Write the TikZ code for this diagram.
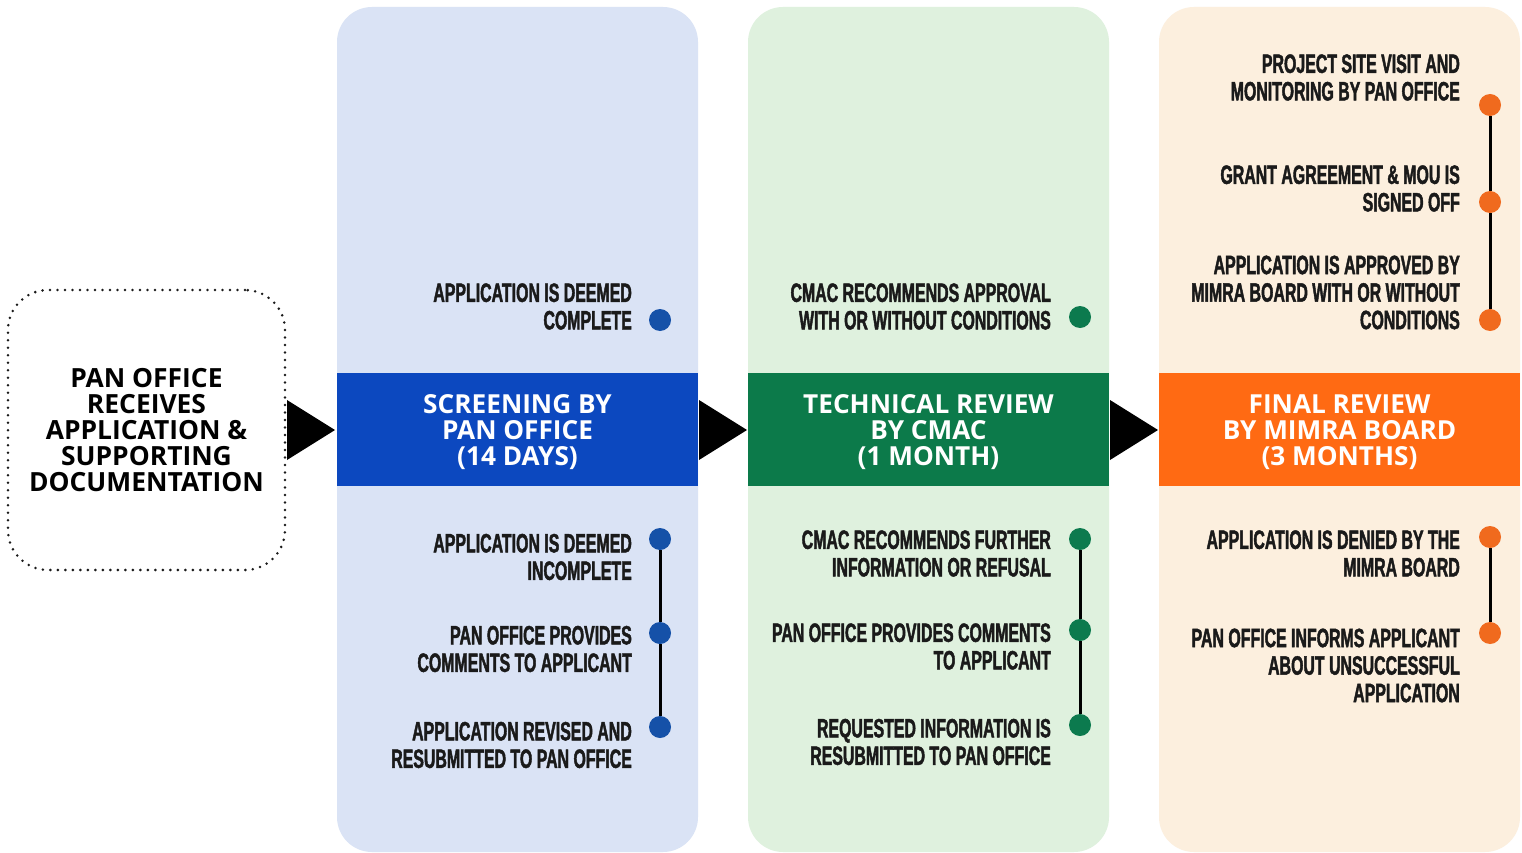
\documentclass[tikz,border=0pt]{standalone}
\usepackage{fontspec}
\newfontfamily\headfont{Open Sans}
\newfontfamily\condfont[FakeStretch=0.6,FakeBold=1.6]{Liberation Sans}
\definecolor{bgA}{HTML}{DAE3F5}
\definecolor{bgB}{HTML}{DFF1DE}
\definecolor{bgC}{HTML}{FCEFDE}
\definecolor{bandA}{HTML}{0C48BF}
\definecolor{bandB}{HTML}{0C7A4A}
\definecolor{bandC}{HTML}{FF6A13}
\definecolor{dotA}{HTML}{1551A8}
\definecolor{dotB}{HTML}{0C7A4E}
\definecolor{dotC}{HTML}{F06A1E}
\definecolor{ink}{HTML}{1A1A1A}
\begin{document}
\begin{tikzpicture}[x=1pt,y=-1pt,
  item/.style={font=\condfont\bfseries\fontsize{26.5}{27.5}\selectfont, align=right, anchor=east, inner sep=0pt, text=ink},
  band/.style={minimum width=361pt, minimum height=113pt, inner sep=0pt},
  bandtext/.style={font=\headfont\bfseries\fontsize{26.2}{26}\selectfont, text=white, align=center, inner sep=0pt},
  dot/.style={circle, inner sep=0pt, minimum size=22pt},
  link/.style={line width=3pt, black},
  colbg/.style={rounded corners=35pt},
  tri/.style={fill=black}]
\useasboundingbox (0,0) rectangle (1522,853);
\fill[white] (0,0) rectangle (1522,853);
% column backgrounds
\fill[bgA, colbg] (337,7) rectangle (698,852);
\fill[bgB, colbg] (748,7) rectangle (1109,852);
\fill[bgC, colbg] (1159,7) rectangle (1520,852);
% start node
\node[draw=ink, line width=2.8pt, dash pattern=on 0pt off 7.5pt, line cap=round, rounded corners=40pt,
  minimum width=277pt, minimum height=280pt, inner sep=0pt, align=center,
  font=\headfont\bfseries\fontsize{26.4}{26}\selectfont, text=black] (start) at (146.5,430)
  {PAN OFFICE\\RECEIVES\\APPLICATION \&\\SUPPORTING\\DOCUMENTATION};
% bands
\node[band, fill=bandA] (s1) at (517.5,429.5) {};
\node[band, fill=bandB] (s2) at (928.5,429.5) {};
\node[band, fill=bandC] (s3) at (1339.5,429.5) {};
\node[bandtext] (s1t) at ([yshift=-3pt]s1.center) {SCREENING BY\\PAN OFFICE\\(14 DAYS)};
\node[bandtext] (s2t) at ([yshift=-3pt]s2.center) {TECHNICAL REVIEW\\BY CMAC\\(1 MONTH)};
\node[bandtext] (s3t) at ([yshift=-3pt]s3.center) {FINAL REVIEW\\BY MIMRA BOARD\\(3 MONTHS)};
% arrows
\fill[tri] (287,400) -- (335,430) -- (287,460) -- cycle;
\fill[tri] (699,400) -- (747,430) -- (699,460) -- cycle;
\fill[tri] (1110,400) -- (1158,430) -- (1110,460) -- cycle;
% column 1 items
\node[item] (ta1) at (632,306.5) {APPLICATION IS DEEMED\\COMPLETE};
\node[item] (ta2) at (632,557) {APPLICATION IS DEEMED\\INCOMPLETE};
\node[item] (ta3) at (632,649) {PAN OFFICE PROVIDES\\COMMENTS TO APPLICANT};
\node[item] (ta4) at (632,745) {APPLICATION REVISED AND\\RESUBMITTED TO PAN OFFICE};
\node[dot, fill=dotA] (a1) at (660,320) {};
\node[dot, fill=dotA] (a2) at (660,539) {};
\node[dot, fill=dotA] (a3) at (660,633) {};
\node[dot, fill=dotA] (a4) at (660,727) {};
\draw[link] (a2) -- (a3) -- (a4);
% column 2 items
\node[item] (tb1) at (1051,306.5) {CMAC RECOMMENDS APPROVAL\\WITH OR WITHOUT CONDITIONS};
\node[item] (tb2) at (1051,553.5) {CMAC RECOMMENDS FURTHER\\INFORMATION OR REFUSAL};
\node[item] (tb3) at (1051,646.5) {PAN OFFICE PROVIDES COMMENTS\\TO APPLICANT};
\node[item] (tb4) at (1051,742) {REQUESTED INFORMATION IS\\RESUBMITTED TO PAN OFFICE};
\node[dot, fill=dotB] (b1) at (1080,317) {};
\node[dot, fill=dotB] (b2) at (1080,539) {};
\node[dot, fill=dotB] (b3) at (1080,630) {};
\node[dot, fill=dotB] (b4) at (1080,725) {};
\draw[link] (b2) -- (b3) -- (b4);
% column 3 items
\node[item] (tc1) at (1460,77.5) {PROJECT SITE VISIT AND\\MONITORING BY PAN OFFICE};
\node[item] (tc2) at (1460,188.5) {GRANT AGREEMENT \& MOU IS\\SIGNED OFF};
\node[item] (tc3) at (1460,292.5) {APPLICATION IS APPROVED BY\\MIMRA BOARD WITH OR WITHOUT\\CONDITIONS};
\node[item] (tc4) at (1460,553.5) {APPLICATION IS DENIED BY THE\\MIMRA BOARD};
\node[item] (tc5) at (1460,665.5) {PAN OFFICE INFORMS APPLICANT\\ABOUT UNSUCCESSFUL\\APPLICATION};
\node[dot, fill=dotC] (c1) at (1490,105) {};
\node[dot, fill=dotC] (c2) at (1490,202) {};
\node[dot, fill=dotC] (c3) at (1490,320) {};
\node[dot, fill=dotC] (c4) at (1490,537) {};
\node[dot, fill=dotC] (c5) at (1490,633) {};
\draw[link] (c1) -- (c2) -- (c3);
\draw[link] (c4) -- (c5);
\end{tikzpicture}
\end{document}
